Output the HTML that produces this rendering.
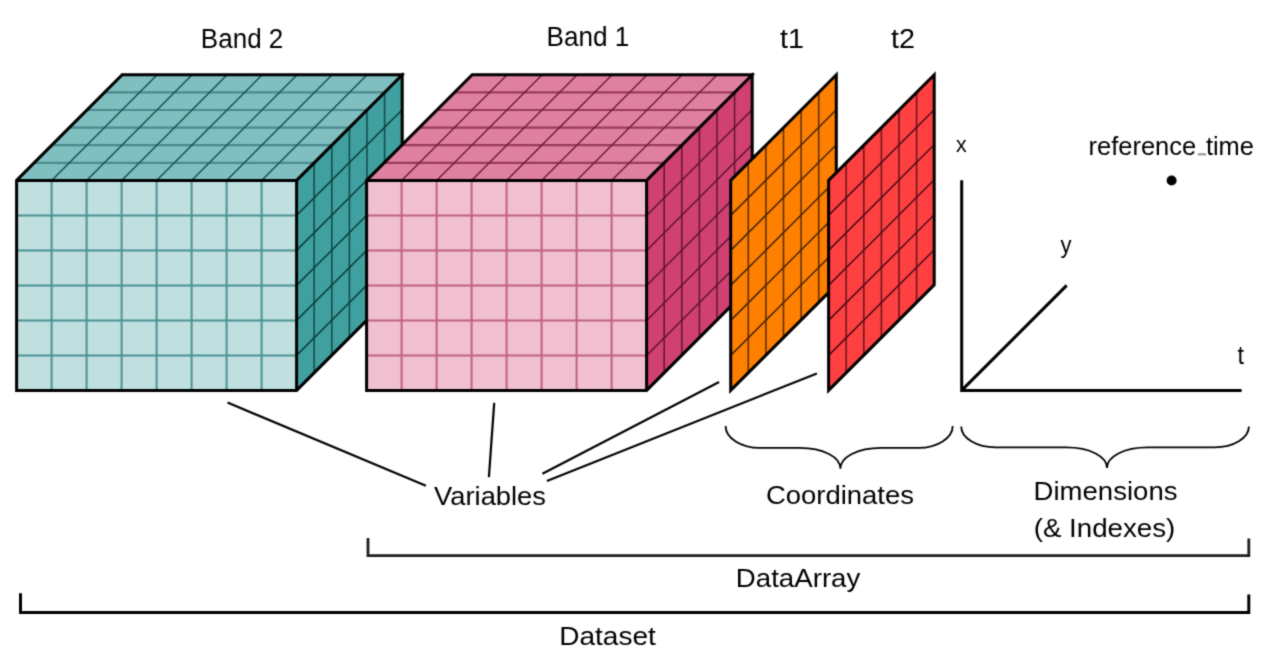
<!DOCTYPE html>
<html><head><meta charset="utf-8"><style>
html,body{margin:0;padding:0;background:#fff;width:1262px;height:658px;overflow:hidden}
svg{display:block}
text{font-family:"Liberation Sans", sans-serif;fill:#000}
</style></head><body>
<svg width="1262" height="658" viewBox="0 0 1262 658">
<defs><filter id="soft" x="0" y="0" width="1262" height="658" filterUnits="userSpaceOnUse" color-interpolation-filters="sRGB"><feConvolveMatrix order="3" kernelMatrix="0.03 0.1 0.03 0.1 0.48 0.1 0.03 0.1 0.03" edgeMode="duplicate"/></filter></defs>
<g filter="url(#soft)">
<rect width="1262" height="658" fill="#fff"/>
<rect x="16.6" y="180.4" width="280" height="210" fill="#c0dfdf"/>
<polygon points="16.6,180.4 122.2,74.8 402.2,74.8 296.6,180.4" fill="#80bfbf"/>
<polygon points="296.6,180.4 402.2,74.8 402.2,284.8 296.6,390.4" fill="#40a0a0"/>
<path d="M51.6 180.4V390.4M86.6 180.4V390.4M121.6 180.4V390.4M156.6 180.4V390.4M191.6 180.4V390.4M226.6 180.4V390.4M261.6 180.4V390.4" stroke="#4a9292" stroke-width="2.0" fill="none"/>
<path d="M16.6 215.4H296.6M16.6 250.4H296.6M16.6 285.4H296.6M16.6 320.4H296.6M16.6 355.4H296.6" stroke="#4a9292" stroke-width="2.0" fill="none"/>
<path d="M34.2 162.8H314.2M51.8 145.2H331.8M69.4 127.6H349.4M87 110H367M104.6 92.4H384.6" stroke="#4a8a8a" stroke-width="2.2" fill="none"/>
<path d="M51.6 180.4L157.2 74.8M86.6 180.4L192.2 74.8M121.6 180.4L227.2 74.8M156.6 180.4L262.2 74.8M191.6 180.4L297.2 74.8M226.6 180.4L332.2 74.8M261.6 180.4L367.2 74.8" stroke="#0f4f4f" stroke-width="1.4" fill="none"/>
<path d="M314.2 162.8V372.8M331.8 145.2V355.2M349.4 127.6V337.6M367 110V320M384.6 92.4V302.4" stroke="#154d4d" stroke-width="1.6" fill="none"/>
<path d="M296.6 215.4L402.2 109.8M296.6 250.4L402.2 144.8M296.6 285.4L402.2 179.8M296.6 320.4L402.2 214.8M296.6 355.4L402.2 249.8" stroke="#0a3f3f" stroke-width="1.5" fill="none"/>
<path d="M16.6 180.4L122.2 74.8H402.2V284.8L296.6 390.4H16.6Z M16.6 180.4H296.6L403.8 73.2 M296.6 180.4V390.4" stroke="#000" stroke-width="3.0" fill="none" stroke-linejoin="miter"/>
<rect x="366.6" y="180.4" width="280" height="210" fill="#f0c0d0"/>
<polygon points="366.6,180.4 472.2,74.8 752.2,74.8 646.6,180.4" fill="#e080a0"/>
<polygon points="646.6,180.4 752.2,74.8 752.2,284.8 646.6,390.4" fill="#d04070"/>
<path d="M401.6 180.4V390.4M436.6 180.4V390.4M471.6 180.4V390.4M506.6 180.4V390.4M541.6 180.4V390.4M576.6 180.4V390.4M611.6 180.4V390.4" stroke="#c06080" stroke-width="2.0" fill="none"/>
<path d="M366.6 215.4H646.6M366.6 250.4H646.6M366.6 285.4H646.6M366.6 320.4H646.6M366.6 355.4H646.6" stroke="#c06080" stroke-width="2.0" fill="none"/>
<path d="M384.2 162.8H664.2M401.8 145.2H681.8M419.4 127.6H699.4M437 110H717M454.6 92.4H734.6" stroke="#9a3a5a" stroke-width="2.2" fill="none"/>
<path d="M401.6 180.4L507.2 74.8M436.6 180.4L542.2 74.8M471.6 180.4L577.2 74.8M506.6 180.4L612.2 74.8M541.6 180.4L647.2 74.8M576.6 180.4L682.2 74.8M611.6 180.4L717.2 74.8" stroke="#6a1a3a" stroke-width="1.4" fill="none"/>
<path d="M664.2 162.8V372.8M681.8 145.2V355.2M699.4 127.6V337.6M717 110V320M734.6 92.4V302.4" stroke="#601535" stroke-width="1.5" fill="none"/>
<path d="M646.6 215.4L752.2 109.8M646.6 250.4L752.2 144.8M646.6 285.4L752.2 179.8M646.6 320.4L752.2 214.8M646.6 355.4L752.2 249.8" stroke="#5a1030" stroke-width="1.4" fill="none"/>
<path d="M366.6 180.4L472.2 74.8H752.2V284.8L646.6 390.4H366.6Z M366.6 180.4H646.6L753.8 73.2 M646.6 180.4V390.4" stroke="#000" stroke-width="3.0" fill="none" stroke-linejoin="miter"/>
<polygon points="730.7,180.4 836.3,74.8 836.3,284.8 730.7,390.4" fill="#ff8000"/>
<path d="M748.3 162.8V372.8M765.9 145.2V355.2M783.5 127.6V337.6M801.1 110V320M818.7 92.4V302.4" stroke="#603000" stroke-width="1.6" fill="none"/>
<path d="M730.7 215.4L836.3 109.8M730.7 250.4L836.3 144.8M730.7 285.4L836.3 179.8M730.7 320.4L836.3 214.8M730.7 355.4L836.3 249.8" stroke="#4a2500" stroke-width="1.5" fill="none"/>
<path d="M730.7 180.4L836.3 74.8V284.8L730.7 390.4Z" stroke="#000" stroke-width="3.0" fill="none"/>
<polygon points="828.6,180.4 934.2,74.8 934.2,284.8 828.6,390.4" fill="#ff4040"/>
<path d="M846.2 162.8V372.8M863.8 145.2V355.2M881.4 127.6V337.6M899 110V320M916.6 92.4V302.4" stroke="#701520" stroke-width="1.6" fill="none"/>
<path d="M828.6 215.4L934.2 109.8M828.6 250.4L934.2 144.8M828.6 285.4L934.2 179.8M828.6 320.4L934.2 214.8M828.6 355.4L934.2 249.8" stroke="#500a1a" stroke-width="1.5" fill="none"/>
<path d="M828.6 180.4L934.2 74.8V284.8L828.6 390.4Z" stroke="#000" stroke-width="3.0" fill="none"/>
<path d="M961.7 180.2V390.4H1241.6 M961.7 390.4L1066.7 285.4" stroke="#000" stroke-width="3" fill="none"/>
<circle cx="1171.6" cy="180.5" r="5" fill="#000"/>
<path d="M227.5 402.6L425.9 485.7 M494.2 402.8L488.9 477.2 M719.1 382.1L542.4 473.7 M816.9 373.4L546.9 481" stroke="#000" stroke-width="2.2" fill="none"/>
<path d="M725.6 426A34.4 21.9 0 0 0 760 447.9H799.5C823.7 447.9 840.4 457.3 840.4 468.7C840.4 457.3 857.1 447.9 881.3 447.9H918.3A34.4 21.9 0 0 0 952.7 426" stroke="#000" stroke-width="1.8" fill="none"/>
<path d="M961.2 426.5A34.4 20.9 0 0 0 995.6 447.4H1066.1C1090.3 447.4 1107 456.6 1107 468C1107 456.6 1123.7 447.4 1147.9 447.4H1214.5A34.4 20.9 0 0 0 1248.9 426.5" stroke="#000" stroke-width="1.8" fill="none"/>
<path d="M368 537.9V555.7H1248.8V538.4" stroke="#1e1e1e" stroke-width="2.8" fill="none"/>
<path d="M20.5 593.3V612.6H1248.8V594.4" stroke="#000" stroke-width="3.0" fill="none"/>
<text x="200.87" y="47.70" font-size="26.74" textLength="82.44" lengthAdjust="spacingAndGlyphs">Band 2</text>
<text x="546.56" y="45.70" font-size="26.89" textLength="82.82" lengthAdjust="spacingAndGlyphs">Band 1</text>
<text x="780.07" y="47.70" font-size="26.74" textLength="23.94" lengthAdjust="spacingAndGlyphs">t1</text>
<text x="890.96" y="47.70" font-size="26.74" textLength="23.98" lengthAdjust="spacingAndGlyphs">t2</text>
<text x="956.06" y="151.60" font-size="22.54" textLength="10.67" lengthAdjust="spacingAndGlyphs">x</text>
<text x="1060.55" y="253.40" font-size="23.48" textLength="11.00" lengthAdjust="spacingAndGlyphs">y</text>
<text x="1237.54" y="364.20" font-size="26.32" textLength="6.53" lengthAdjust="spacingAndGlyphs">t</text>
<text x="1088.51" y="155.20" font-size="25.95" textLength="107.62" lengthAdjust="spacingAndGlyphs">reference</text>
<text x="1205.92" y="155.20" font-size="25.95" textLength="48.01" lengthAdjust="spacingAndGlyphs">time</text>
<rect x="1197.7" y="153.2" width="8.3" height="2.2" fill="#999"/>
<text x="434.08" y="504.70" font-size="25.12" textLength="111.89" lengthAdjust="spacingAndGlyphs">Variables</text>
<text x="765.91" y="504.30" font-size="25.12" textLength="148.09" lengthAdjust="spacingAndGlyphs">Coordinates</text>
<text x="1033.54" y="500.00" font-size="25.44" textLength="143.96" lengthAdjust="spacingAndGlyphs">Dimensions</text>
<text x="1033.68" y="536.80" font-size="25.00" textLength="141.64" lengthAdjust="spacingAndGlyphs">(&amp; Indexes)</text>
<text x="735.83" y="587.00" font-size="24.85" textLength="124.52" lengthAdjust="spacingAndGlyphs">DataArray</text>
<text x="559.20" y="644.70" font-size="26.45" textLength="96.60" lengthAdjust="spacingAndGlyphs">Dataset</text>
</g>
</svg>
</body></html>
